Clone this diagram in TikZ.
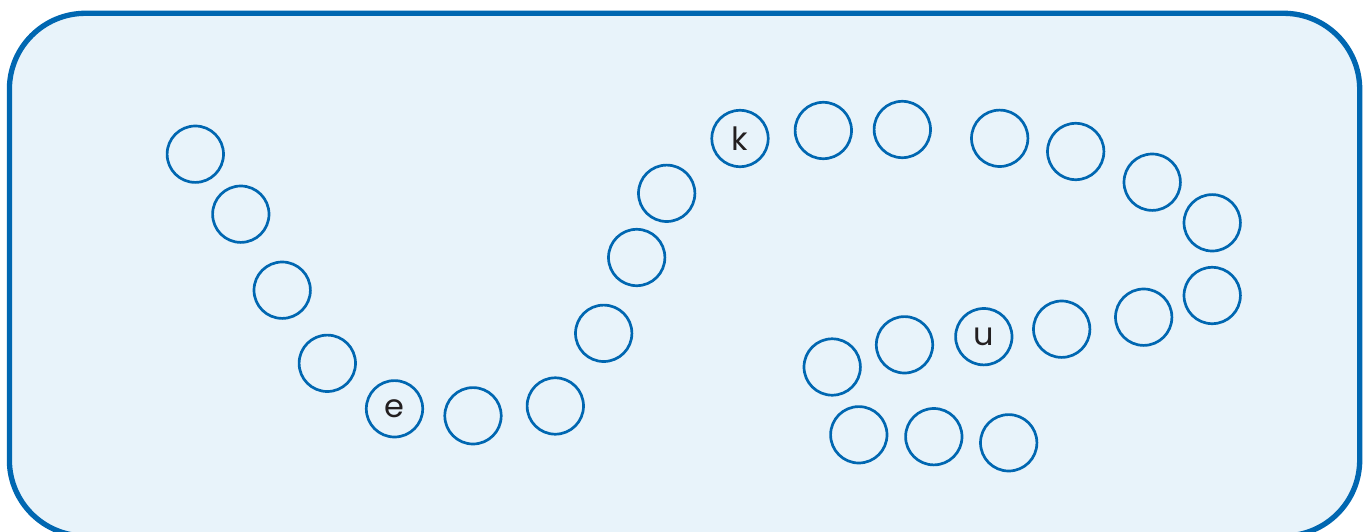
\documentclass[tikz,border=0pt]{standalone}
\usepackage{fontspec}
\setmainfont{Poppins}
\usepackage{tikz}
\usetikzlibrary{positioning}

\definecolor{panelblue}{RGB}{0,103,177}
\definecolor{panelfill}{RGB}{232,243,250}
\definecolor{lettergray}{RGB}{35,31,32}

\begin{document}
\begin{tikzpicture}[x=1pt, y=-1pt,
    panel/.style={draw=panelblue, fill=panelfill, line width=5.3pt, 
                  rounded corners=76pt},
    bubble/.style={circle, draw=panelblue, line width=2.7pt, 
                   minimum size=56.4pt, inner sep=0pt, text=lettergray,
                   font=\fontsize{32}{36}\selectfont}]

    \useasboundingbox (0,0) rectangle (1370,532);
    \draw[panel] (9.4,13.3) rectangle (1359.7,536);

    % left arc down to the e
    \node[bubble] (b1) at (195.3,154.2) {};
    \node[bubble] (b2) at (240.8,214.2) {};
    \node[bubble] (b3) at (282.2,290.2) {};
    \node[bubble] (b4) at (327.3,363.3) {};
    \node[bubble] (letterE) at (394.5,408.8) {e};
    \node[bubble] (b6) at (473,415.8) {};
    \node[bubble] (b7) at (555.3,406) {};

    % rising up to the k
    \node[bubble] (b8) at (603.7,333.3) {};
    \node[bubble] (b9) at (636.7,257.5) {};
    \node[bubble] (b10) at (666.7,193.3) {};
    \node[bubble] (letterK) at (740,138.5) {k};
    \node[bubble] (b12) at (823.3,130.5) {};
    \node[bubble] (b13) at (902.3,129.5) {};

    % right loop
    \node[bubble] (b14) at (999.7,138.3) {};
    \node[bubble] (b15) at (1075.7,151.5) {};
    \node[bubble] (b16) at (1152.2,182.2) {};
    \node[bubble] (b17) at (1212.2,222.8) {};
    \node[bubble] (b18) at (1212.2,295.5) {};
    \node[bubble] (b19) at (1143.7,317.2) {};
    \node[bubble] (b20) at (1061.7,329.2) {};
    \node[bubble] (letterU) at (983.8,336.7) {u};
    \node[bubble] (b22) at (904.5,344.8) {};
    \node[bubble] (b23) at (832.2,367) {};

    % bottom row
    \node[bubble] (b24) at (858.8,434.8) {};
    \node[bubble] (b25) at (933.8,436.7) {};
    \node[bubble] (b26) at (1008.7,442.8) {};

\end{tikzpicture}
\end{document}
